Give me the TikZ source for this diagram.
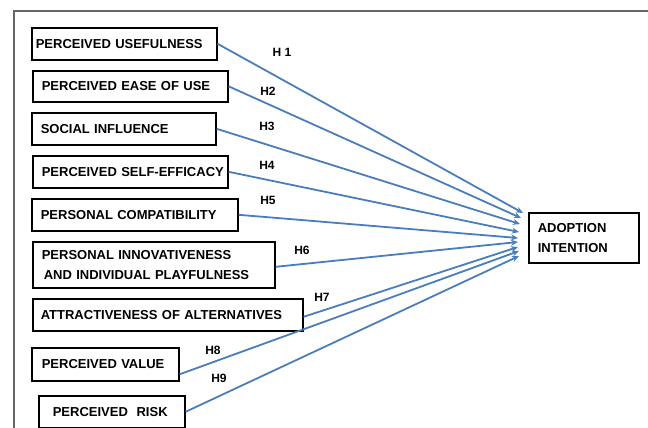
\documentclass[tikz,border=0pt]{standalone}
\usepackage{fontspec}
\setmainfont{Liberation Sans}
\usetikzlibrary{arrows.meta}
\definecolor{linkblue}{HTML}{4A7EBB}
\definecolor{framegray}{HTML}{666666}
\begin{document}
\begin{tikzpicture}[x=1pt,y=-1pt,
  factor/.style={draw=black, line width=1.6pt, anchor=north west,
    inner xsep=0pt, inner ysep=0pt, align=left,
    font=\bfseries\fontsize{13}{20.5}\selectfont},
  link/.style={draw=linkblue, line width=1.8pt,
    -{Stealth[length=7pt,width=6pt]}},
  hyp/.style={font=\bfseries\fontsize{12}{14}\selectfont, inner sep=0pt}
]
\useasboundingbox (0,0) rectangle (648,428);

% outer frame (top and left edges only)
\coordinate (fa) at (14,428);
\coordinate (fb) at (14,11);
\coordinate (fc) at (648,11);
\draw[framegray, line width=1.8pt] (fa) -- (fb) -- (fc);

% constructs
\node[factor, text width=185pt, minimum height=32pt] (pu) at (31,27) {\hspace*{4pt}PERCEIVED USEFULNESS};
\node[factor, text width=195pt, minimum height=31pt] (peou) at (32,70) {\hspace*{9pt}PERCEIVED EASE OF USE};
\node[factor, text width=184pt, minimum height=32pt] (si) at (31,112) {\hspace*{9pt}SOCIAL INFLUENCE};
\node[factor, text width=195pt, minimum height=32pt] (pse) at (32,155) {\hspace*{9pt}PERCEIVED SELF-EFFICACY};
\node[factor, text width=206pt, minimum height=32pt] (pc) at (31,198) {\hspace*{9pt}PERSONAL COMPATIBILITY};
\node[factor, text width=242pt, minimum height=46pt] (pi) at (32,241) {\hspace*{9pt}PERSONAL INNOVATIVENESS\\\hspace*{11pt}AND INDIVIDUAL PLAYFULNESS};
\node[factor, text width=270pt, minimum height=32pt] (aa) at (32,298) {\hspace*{8pt}ATTRACTIVENESS OF ALTERNATIVES};
\node[factor, text width=147pt, minimum height=33pt] (pv) at (31,347) {\hspace*{10pt}PERCEIVED VALUE};
\node[factor, text width=146pt, minimum height=32pt] (pr) at (38,395) {\hspace*{14pt}PERCEIVED\ \ RISK};

\node[factor, text width=110pt, minimum height=50pt] (ai) at (528,212) {\hspace*{9pt}ADOPTION\\\hspace*{9pt}INTENTION};

% arrow tips on the outcome side
\coordinate (t1) at (523,213);
\coordinate (t2) at (521,218);
\coordinate (t3) at (520,224);
\coordinate (t4) at (519,232);
\coordinate (t5) at (518,238);
\coordinate (t6) at (518,242);
\coordinate (t7) at (518,247);
\coordinate (t8) at (519,251);
\coordinate (t9) at (519,256);

\draw[link] (pu.east) -- (t1);
\draw[link] (peou.east) -- (t2);
\draw[link] (si.east) -- (t3);
\draw[link] (pse.east) -- (t4);
\draw[link] (pc.east) -- (t5);
\draw[link] ([yshift=-2pt]pi.east) -- (t6);
\draw[link] ([yshift=-2pt]aa.east) -- (t7);
\draw[link] ([yshift=-10pt]pv.east) -- (t8);
\draw[link] (pr.east) -- (t9);

% hypothesis labels
\node[hyp] (h1) at (282,52) {H 1};
\node[hyp] (h2) at (268,91) {H2};
\node[hyp] (h3) at (267,126) {H3};
\node[hyp] (h4) at (267,165) {H4};
\node[hyp] (h5) at (268,200) {H5};
\node[hyp] (h6) at (302,250) {H6};
\node[hyp] (h7) at (322,297) {H7};
\node[hyp] (h8) at (213,350) {H8};
\node[hyp] (h9) at (219,378) {H9};
\end{tikzpicture}
\end{document}
